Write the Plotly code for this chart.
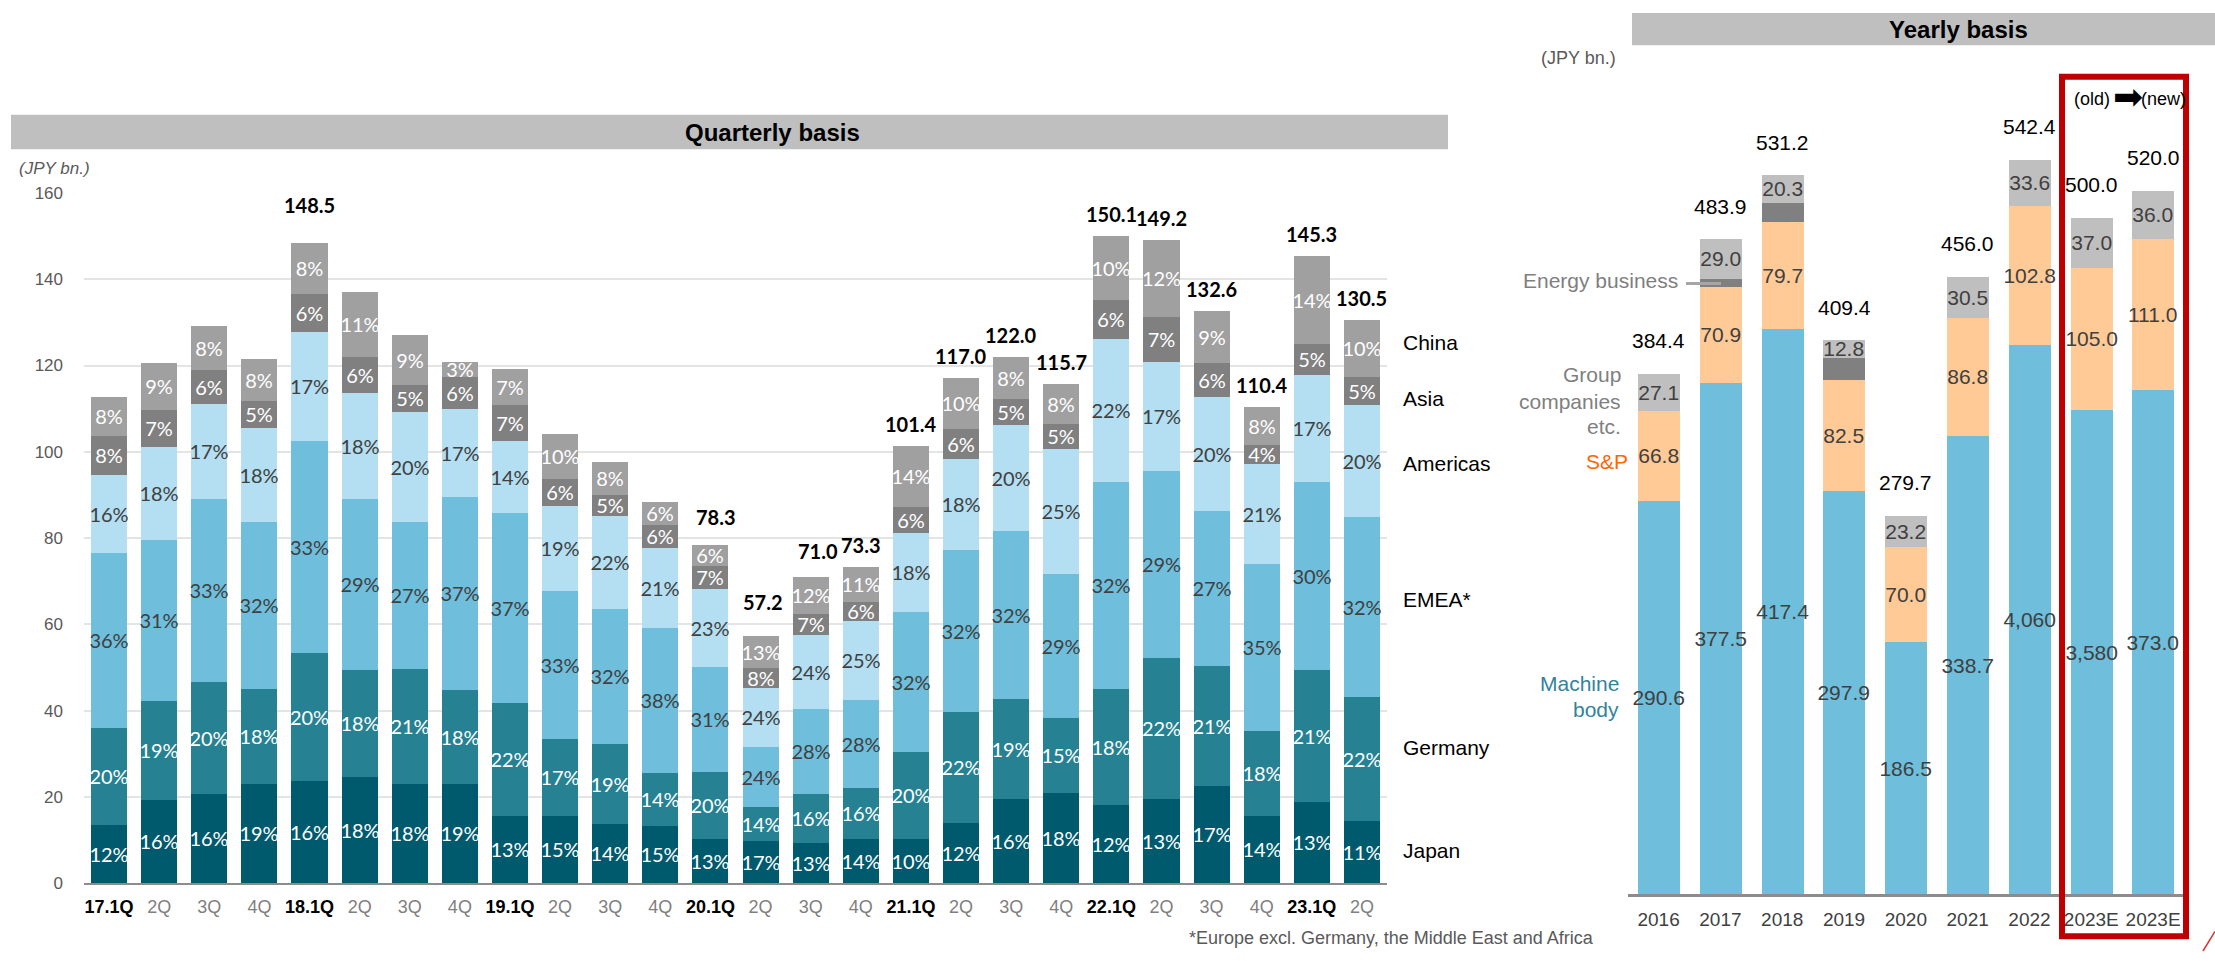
import plotly.graph_objects as go

W, H = 2215, 961

# ---------------- quarterly order intake by region ----------------
quarters = ["17.1Q", "17.2Q", "17.3Q", "17.4Q", "18.1Q", "18.2Q", "18.3Q", "18.4Q",
            "19.1Q", "19.2Q", "19.3Q", "19.4Q", "20.1Q", "20.2Q", "20.3Q", "20.4Q",
            "21.1Q", "21.2Q", "21.3Q", "21.4Q", "22.1Q", "22.2Q", "22.3Q", "22.4Q",
            "23.1Q", "23.2Q"]
q_totals = [112.7, 120.5, 129.2, 121.4, 148.5, 137.0, 127.0, 120.9,
            119.2, 104.2, 97.7, 88.3, 78.3, 57.2, 71.0, 73.3,
            101.4, 117.0, 122.0, 115.7, 150.1, 149.2, 132.6, 110.4,
            145.3, 130.5]
q_total_shown = ["18.1Q", "20.1Q", "20.2Q", "20.3Q", "20.4Q", "21.1Q", "21.2Q", "21.3Q",
                 "21.4Q", "22.1Q", "22.2Q", "22.3Q", "22.4Q", "23.1Q", "23.2Q"]

# regional shares (%)
japan    = [12, 16, 16, 19, 16, 18, 18, 19, 13, 15, 14, 15, 13, 17, 13, 14, 10, 12, 16, 18, 12, 13, 17, 14, 13, 11]
germany  = [20, 19, 20, 18, 20, 18, 21, 18, 22, 17, 19, 14, 20, 14, 16, 16, 20, 22, 19, 15, 18, 22, 21, 18, 21, 22]
emea     = [36, 31, 33, 32, 33, 29, 27, 37, 37, 33, 32, 38, 31, 24, 28, 28, 32, 32, 32, 29, 32, 29, 27, 35, 30, 32]
americas = [16, 18, 17, 18, 17, 18, 20, 17, 14, 19, 22, 21, 23, 24, 24, 25, 18, 18, 20, 25, 22, 17, 20, 21, 17, 20]
asia     = [8, 7, 6, 5, 6, 6, 5, 6, 7, 6, 5, 6, 7, 8, 7, 6, 6, 6, 5, 5, 6, 7, 6, 4, 5, 5]
china    = [8, 9, 8, 8, 8, 11, 9, 3, 7, 10, 8, 6, 6, 13, 12, 11, 14, 10, 8, 8, 10, 12, 9, 8, 14, 10]

# ---------------- yearly order intake by business ----------------
years = ["2016", "2017", "2018", "2019", "2020", "2021", "2022", "2023E", "2023E"]
machine_body = [290.6, 377.5, 417.4, 297.9, 186.5, 338.7, 406.0, 358.0, 373.0]
machine_text = ["290.6", "377.5", "417.4", "297.9", "186.5", "338.7", "4,060", "3,580", "373.0"]
s_and_p = [66.8, 70.9, 79.7, 82.5, 70.0, 86.8, 102.8, 105.0, 111.0]
energy = [0.0, 6.5, 13.8, 16.2, 0.0, 0.0, 0.0, 0.0, 0.0]
group_cos = [27.1, 29.0, 20.3, 12.8, 23.2, 30.5, 33.6, 37.0, 36.0]
y_totals = [384.4, 483.9, 531.2, 409.4, 279.7, 456.0, 542.4, 500.0, 520.0]

ARIAL = "Liberation Sans, Arial, sans-serif"
CAL = "Lato, Carlito, Calibri, sans-serif"

fig = go.Figure()

# stacked regional bars (values = share x quarterly total)
qx = list(range(len(quarters)))
regions = [
    ("Japan", japan, "#005A6E", "#FFFFFF"),
    ("Germany", germany, "#268293", "#FFFFFF"),
    ("EMEA*", emea, "#6EBEDC", "#404040"),
    ("Americas", americas, "#B4DEF1", "#404040"),
    ("Asia", asia, "#808080", "#FFFFFF"),
    ("China", china, "#A0A0A0", "#FFFFFF"),
]
for name, shares, color, tcolor in regions:
    vals = [s * t / 100.0 for s, t in zip(shares, q_totals)]
    fig.add_trace(go.Bar(
        x=qx, y=vals, name=name, width=0.72,
        marker=dict(color=color, line=dict(width=0)),
        text=[f"{s}%" for s in shares], textposition="inside",
        insidetextanchor="middle", constraintext="none", textangle=0,
        textfont=dict(family=CAL, size=20, color=tcolor),
        hoverinfo="skip", xaxis="x", yaxis="y",
    ))

# stacked business bars
yx = list(range(len(years)))
businesses = [
    ("Machine body", machine_body, machine_text, "#6EBEDC"),
    ("S&P", s_and_p, [f"{v:.1f}" for v in s_and_p], "#FFCA96"),
    ("Energy business", energy, ["" for _ in energy], "#808080"),
    ("Group companies etc.", group_cos, [f"{v:.1f}" for v in group_cos], "#BFBFBF"),
]
for name, vals, texts, color in businesses:
    fig.add_trace(go.Bar(
        x=yx, y=vals, name=name, width=0.68,
        marker=dict(color=color, line=dict(width=0)),
        text=texts, textposition="inside", insidetextanchor="middle",
        constraintext="none", textangle=0,
        textfont=dict(family=ARIAL, size=21, color="#404040"),
        hoverinfo="skip", xaxis="x2", yaxis="y2",
    ))


def px(x):
    return x / W


def py(y):
    return 1 - y / H


q_ticktext = []
for q in quarters:
    if q.endswith(".1Q"):
        q_ticktext.append(f"<span style='color:#000000'><b>{q}</b></span>")
    else:
        q_ticktext.append(q.split(".")[1])

y_scale = 1.3814
y_top = 60.0

fig.update_layout(
    width=W, height=H, margin=dict(l=0, r=0, t=0, b=0),
    paper_bgcolor="white", plot_bgcolor="white",
    barmode="stack", showlegend=False, bargap=0,
    xaxis=dict(domain=[px(84), px(1387)], range=[-0.5, len(quarters) - 0.5],
               tickmode="array", tickvals=qx, ticktext=q_ticktext,
               tickfont=dict(family=ARIAL, size=18, color="#7F7F7F"),
               showline=True, linecolor="#8C8C8C", linewidth=2,
               ticks="", showgrid=False, zeroline=False, ticklabelstandoff=6,
               fixedrange=True),
    yaxis=dict(domain=[py(891.7), py(187.7)], range=[0, 160],
               tickmode="array", tickvals=list(range(0, 161, 20)),
               tickfont=dict(family=ARIAL, size=17, color="#595959"),
               showgrid=True, gridcolor="#E4E4E4", gridwidth=2,
               zeroline=False, showline=False, ticks="", ticklabelstandoff=20,
               fixedrange=True),
    xaxis2=dict(domain=[px(1627.7), px(2184)], range=[-0.5, len(years) - 0.5],
                anchor="y2", tickmode="array", tickvals=yx, ticktext=years,
                tickfont=dict(family=ARIAL, size=19, color="#404040"),
                showline=True, linecolor="#8C8C8C", linewidth=3,
                ticks="", showgrid=False, zeroline=False, ticklabelstandoff=6,
                fixedrange=True),
    yaxis2=dict(domain=[py(903.3), py(y_top)], range=[0, (903.3 - y_top) / y_scale],
                anchor="x2", visible=False, fixedrange=True),
)

shapes = [
    # section header bands
    dict(type="rect", xref="paper", yref="paper", x0=px(11), x1=px(1448), y0=py(143), y1=py(108),
         fillcolor="#BFBFBF", line=dict(width=0), layer="below"),
    dict(type="rect", xref="paper", yref="paper", x0=px(1632), x1=px(2215), y0=py(37), y1=py(4),
         fillcolor="#BFBFBF", line=dict(width=0), layer="below"),
    # forecast highlight frame
    dict(type="rect", xref="paper", yref="paper", x0=px(2062), x1=px(2186), y0=py(946), y1=py(69),
         fillcolor="rgba(0,0,0,0)", line=dict(color="#C00000", width=6)),
    # energy business leader line
    dict(type="line", xref="paper", yref="paper", x0=px(1686), x1=px(1721), y0=py(280), y1=py(280),
         line=dict(color="#A6A6A6", width=3)),
    # corner accent
    dict(type="line", xref="paper", yref="paper", x0=px(2203), x1=px(2215), y0=py(961), y1=py(941),
         line=dict(color="#E03030", width=1.5)),
]
fig.update_layout(shapes=shapes)


def note(text, x, y, size, color="#000000", family=ARIAL, xanchor="center"):
    return dict(text=text, x=px(x), y=py(y), xref="paper", yref="paper",
                xanchor=xanchor, yanchor="middle", showarrow=False,
                font=dict(family=family, size=size, color=color))


anns = [
    note("<b>Quarterly basis</b>", 772, 126, 24),
    note("<b>Yearly basis</b>", 1958, 21, 24),
    note("<i>(JPY bn.)</i>", 17, 163, 17, "#595959", xanchor="left"),
    note("(JPY bn.)", 1539, 50, 18, "#595959", xanchor="left"),
    note("China", 1401, 340, 21, xanchor="left"),
    note("Asia", 1401, 397, 21, xanchor="left"),
    note("Americas", 1401, 464, 21, xanchor="left"),
    note("EMEA*", 1401, 602, 21, xanchor="left"),
    note("Germany", 1401, 753, 21, xanchor="left"),
    note("Japan", 1401, 858, 21, xanchor="left"),
    note("Energy business", 1680, 277, 21, "#7F7F7F", xanchor="right"),
    note("Group", 1623, 373, 21, "#808080", xanchor="right"),
    note("companies", 1623, 400, 21, "#808080", xanchor="right"),
    note("etc.", 1623, 426, 21, "#808080", xanchor="right"),
    note("S&P", 1630, 462, 21, "#FF6600", xanchor="right"),
    note("Machine", 1621, 688, 21, "#31849B", xanchor="right"),
    note("body", 1621, 715, 21, "#31849B", xanchor="right"),
    note("(old)", 2092, 92, 18),
    note("➡", 2128, 89, 36, family="DejaVu Sans"),
    note("(new)", 2163, 92, 18),
    note("*Europe excl. Germany, the Middle East and Africa", 1596, 948, 18, "#595959",
         xanchor="right"),
]

# quarterly totals above bars
lift = {"18.1Q": (0, 38), "20.1Q": (6, 28), "20.2Q": (2, 34), "20.3Q": (7, 26)}
for i, q in enumerate(quarters):
    if q in q_total_shown:
        dx, dy = lift.get(q, (0, 22))
        anns.append(dict(text=f"<b>{q_totals[i]:.1f}</b>", x=i, y=q_totals[i],
                         xref="x", yref="y", xanchor="center", yanchor="middle",
                         xshift=dx, yshift=dy, showarrow=False,
                         font=dict(family=CAL, size=20, color="#000000")))

# yearly totals above bars
for i, t in enumerate(y_totals):
    anns.append(dict(text=f"{t:.1f}", x=i, y=t, xref="x2", yref="y2",
                     xanchor="center", yanchor="middle", yshift=33, showarrow=False,
                     font=dict(family=ARIAL, size=21, color="#000000")))

fig.update_layout(annotations=anns)

fig.write_html("out.html")
